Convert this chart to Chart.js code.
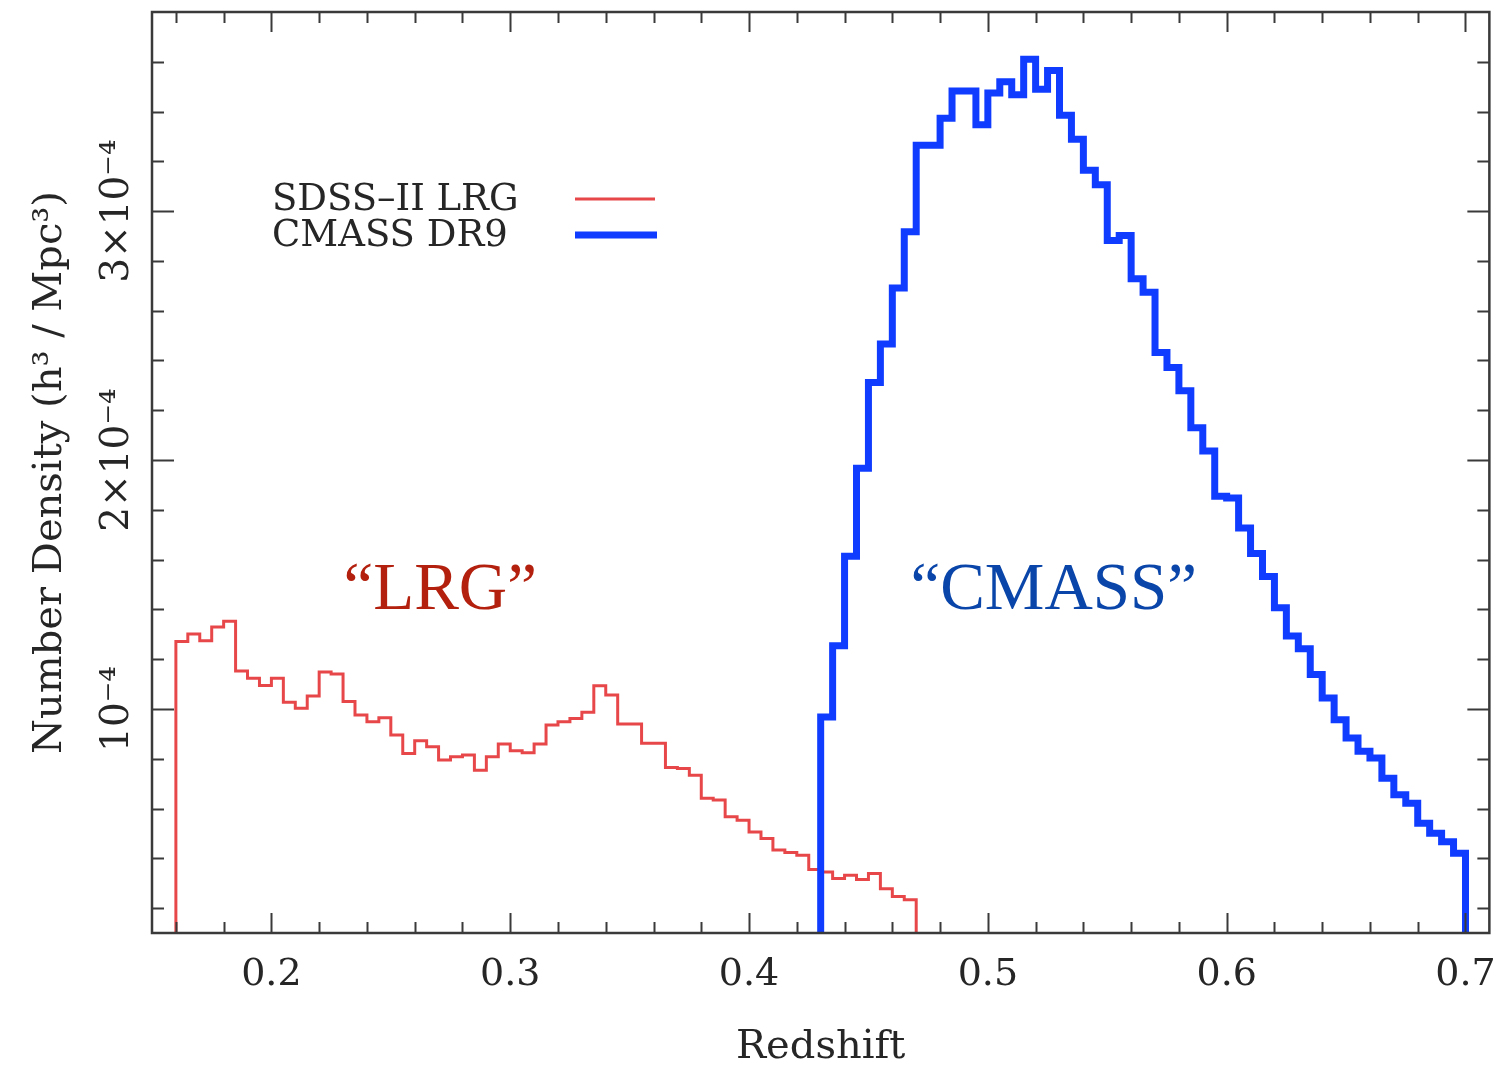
<!DOCTYPE html>
<html>
<head>
<meta charset="utf-8">
<title>Number Density vs Redshift</title>
<script src="https://cdn.jsdelivr.net/npm/chart.js@4.4.1/dist/chart.umd.min.js"></script>
<style>
    html, body { margin: 0; padding: 0; background: #ffffff; }
</style>
</head>
<body>
<canvas id="graficoDensidad" width="1507" height="1072"></canvas>
<script>
//Datos (densidad en unidades de 1e-4 h^3/Mpc^3, bins de 0.005 en redshift)
const BIN = 0.005;

const lrgStart = 0.16;
const lrgDensity = [
    1.271, 1.301, 1.274, 1.329, 1.352, 1.153, 1.123, 1.094, 1.123, 1.027,
    1.003, 1.052, 1.149, 1.141, 1.030, 0.976, 0.949, 0.965, 0.895, 0.821,
    0.872, 0.848, 0.795, 0.808, 0.815, 0.754, 0.808, 0.859, 0.832, 0.824,
    0.859, 0.936, 0.949, 0.962, 0.987, 1.093, 1.056, 0.940, 0.940, 0.862,
    0.862, 0.765, 0.761, 0.734, 0.641, 0.634, 0.567, 0.553, 0.506, 0.480,
    0.433, 0.423, 0.412, 0.355, 0.345, 0.319, 0.332, 0.315, 0.339, 0.278,
    0.247, 0.234
];

const cmassStart = 0.43;
const cmassDensity = [
    0.968, 1.254, 1.614, 1.967, 2.312, 2.466, 2.691, 2.917, 3.265, 3.265,
    3.373, 3.483, 3.483, 3.347, 3.475, 3.520, 3.468, 3.610, 3.490, 3.565,
    3.385, 3.289, 3.164, 3.106, 2.882, 2.902, 2.728, 2.674, 2.432, 2.372,
    2.278, 2.130, 2.036, 1.855, 1.848, 1.727, 1.625, 1.532, 1.407, 1.293,
    1.242, 1.138, 1.044, 0.957, 0.883, 0.830, 0.803, 0.722, 0.655, 0.621,
    0.541, 0.501, 0.467, 0.420
];

const xTickValues = [0.2, 0.3, 0.4, 0.5, 0.6, 0.7];
const yTickValues = [1, 2, 3];
const yTickLabels = ['10⁻⁴', '2×10⁻⁴', '3×10⁻⁴'];

const X_MIN = 0.15, X_MAX = 0.71;
const Y_MIN = 0.1, Y_MAX = 3.8;

const FONT = '"DejaVu Serif", serif';
const INK = '#262626';

//Convierte los bins en puntos para una linea escalonada
function histPoints(start, values) {
    const pts = [{ x: start, y: Y_MIN }];
    values.forEach((v, i) => pts.push({ x: +(start + i * BIN).toFixed(3), y: v }));
    const end = +(start + values.length * BIN).toFixed(3);
    pts.push({ x: end, y: values[values.length - 1] });
    pts.push({ x: end, y: Y_MIN });
    return pts;
}

//Marco, ticks interiores, etiquetas del eje y, leyenda y anotaciones
const marcoPlugin = {
    id: 'marco',
    afterDatasetsDraw(chart) {
        const { ctx, chartArea: a, scales: { x, y } } = chart;
        ctx.save();
        ctx.strokeStyle = '#3a3a3a';
        ctx.lineWidth = 2;
        ctx.beginPath();
        for (let i = 8; i <= 35; i++) {
            const px = Math.round(x.getPixelForValue(i * 0.02)) + 0.5;
            const len = i % 5 === 0 ? 20 : 11;
            ctx.moveTo(px, a.bottom); ctx.lineTo(px, a.bottom - len);
            ctx.moveTo(px, a.top); ctx.lineTo(px, a.top + len);
        }
        for (let i = 1; i <= 18; i++) {
            const py = Math.round(y.getPixelForValue(i * 0.2)) + 0.5;
            const len = i % 5 === 0 ? 22 : 12;
            ctx.moveTo(a.left, py); ctx.lineTo(a.left + len, py);
            ctx.moveTo(a.right, py); ctx.lineTo(a.right - len, py);
        }
        ctx.stroke();

        ctx.lineWidth = 2.5;
        ctx.strokeRect(a.left, a.top, a.right - a.left, a.bottom - a.top);

        //Etiquetas del eje y (rotadas)
        ctx.fillStyle = INK;
        ctx.font = '39px ' + FONT;
        ctx.textAlign = 'center';
        ctx.textBaseline = 'middle';
        yTickValues.forEach((v, i) => {
            ctx.save();
            ctx.translate(a.left - 34, y.getPixelForValue(v));
            ctx.rotate(-Math.PI / 2);
            ctx.fillText(yTickLabels[i], 0, 0);
            ctx.restore();
        });

        //Leyenda
        ctx.textAlign = 'left';
        ctx.font = '37px ' + FONT;
        ctx.fillText('SDSS–II LRG', a.left + 120, a.top + 188);
        ctx.fillText('CMASS DR9', a.left + 120, a.top + 224);
        ctx.lineCap = 'butt';
        ctx.strokeStyle = '#e8474a';
        ctx.lineWidth = 3;
        ctx.beginPath(); ctx.moveTo(a.left + 423, a.top + 187); ctx.lineTo(a.left + 503, a.top + 187); ctx.stroke();
        ctx.strokeStyle = '#0f3cff';
        ctx.lineWidth = 7;
        ctx.beginPath(); ctx.moveTo(a.left + 423, a.top + 223); ctx.lineTo(a.left + 505, a.top + 223); ctx.stroke();

        //Anotaciones
        ctx.textAlign = 'center';
        ctx.textBaseline = 'alphabetic';
        ctx.font = '67px "Liberation Serif", serif';
        ctx.fillStyle = '#b3200e';
        ctx.fillText('“LRG”', x.getPixelForValue(0.2707), y.getPixelForValue(1.40));
        ctx.fillStyle = '#0a46aa';
        ctx.fillText('“CMASS”', x.getPixelForValue(0.5276), y.getPixelForValue(1.40));
        ctx.restore();
    }
};

const ctx = document.getElementById('graficoDensidad').getContext('2d');
new Chart(ctx, {
    type: 'line',
    data: {
        datasets: [
            {
                label: 'SDSS-II LRG',
                data: histPoints(lrgStart, lrgDensity),
                borderColor: '#e8474a',
                borderWidth: 3,
                stepped: 'before',
                pointRadius: 0,
                fill: false,
                order: 1
            },
            {
                label: 'CMASS DR9',
                data: histPoints(cmassStart, cmassDensity),
                borderColor: '#0f3cff',
                borderWidth: 7,
                stepped: 'before',
                pointRadius: 0,
                fill: false,
                order: 0
            }
        ]
    },
    options: {
        responsive: false,
        devicePixelRatio: 1,
        animation: false,
        layout: { padding: { left: 0, right: 17, top: 12, bottom: 0 } },
        plugins: {
            legend: { display: false },
            tooltip: { enabled: false }
        },
        scales: {
            x: {
                type: 'linear',
                min: X_MIN,
                max: X_MAX,
                grid: { display: false },
                border: { display: false },
                afterBuildTicks: (scale) => { scale.ticks = xTickValues.map(v => ({ value: v })); },
                afterFit: (scale) => { scale.height = 139; },
                ticks: {
                    color: INK,
                    padding: 11,
                    maxRotation: 0,
                    font: { family: FONT, size: 38 },
                    callback: (v) => v.toFixed(1)
                },
                title: {
                    display: true,
                    text: 'Redshift',
                    color: INK,
                    font: { family: FONT, size: 40 },
                    padding: { top: 0, bottom: 0 }
                }
            },
            y: {
                type: 'linear',
                min: Y_MIN,
                max: Y_MAX,
                grid: { display: false },
                border: { display: false },
                afterFit: (scale) => { scale.width = 152; },
                ticks: { display: false },
                title: {
                    display: true,
                    text: 'Number Density (h³ / Mpc³)',
                    color: INK,
                    font: { family: FONT, size: 40 },
                    padding: { top: 27, bottom: 0 }
                }
            }
        }
    },
    plugins: [marcoPlugin]
});
</script>
</body>
</html>
